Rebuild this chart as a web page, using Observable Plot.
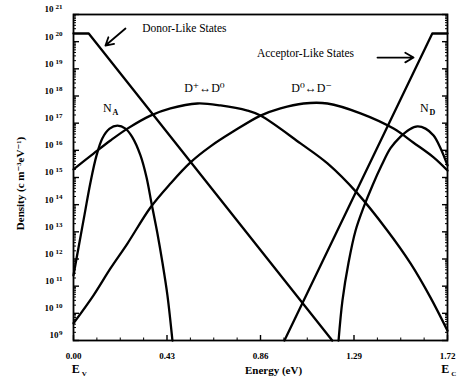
<!DOCTYPE html>
<html><head><meta charset="utf-8">
<script src="https://cdn.jsdelivr.net/npm/d3@7"></script>
<script src="https://cdn.jsdelivr.net/npm/@observablehq/plot@0.6"></script>
<style>body{margin:0;background:#fff}</style>
</head><body><div id="chart"></div>
<script>
// Donor-like tail states
const donorX = [0, 0.07, 1.19];
const donorY = [2e20, 2e20, 1e9];
// Acceptor-like tail states
const acceptorX = [0.97, 1.65, 1.72];
const acceptorY = [1e9, 2e20, 2e20];
// D+ <-> D0 dangling bond band
const dpX = [0, 0.092, 0.17, 0.248, 0.354, 0.446, 0.57, 0.676, 0.80, 0.86, 1.044, 1.168, 1.306, 1.444, 1.55, 1.642, 1.72];
const dpY = [2.0e15, 7.6e15, 2.3e16, 6.3e16, 1.9e17, 3.5e17, 5.3e17, 4.5e17, 2.9e17, 1.9e17, 1.8e16, 3.3e15, 2.6e14, 1.1e13, 6.9e11, 3.8e10, 2.3e9];
// D0 <-> D- dangling bond band
const dmX = [0, 0.092, 0.17, 0.248, 0.354, 0.446, 0.538, 0.63, 0.736, 0.86, 0.952, 1.058, 1.168, 1.32, 1.472, 1.564, 1.656, 1.72];
const dmY = [4.3e9, 4.6e10, 4.5e11, 3.7e12, 7.9e13, 6.0e14, 3.6e15, 1.4e16, 5.0e16, 1.9e17, 3.5e17, 5.3e17, 5.3e17, 2.3e17, 6.3e16, 1.9e16, 5.5e15, 1.8e15];
// N_A
const naX = [0, 0.023, 0.051, 0.078, 0.106, 0.133, 0.166, 0.202, 0.239, 0.271, 0.308, 0.336, 0.359, 0.386, 0.409, 0.432, 0.455];
const naY = [2.5e11, 2.6e12, 4.4e13, 6.6e14, 6.5e15, 2.8e16, 6.3e16, 8.1e16, 6.3e16, 3.0e16, 6.5e15, 1.0e15, 1.1e14, 8.7e12, 7.4e11, 4.6e10, 1e9];
// N_D
const ndX = [1.219, 1.237, 1.265, 1.297, 1.334, 1.375, 1.417, 1.458, 1.504, 1.545, 1.582, 1.619, 1.656, 1.688, 1.72];
const ndY = [1e9, 3.0e10, 7.4e11, 1.1e13, 7.9e13, 5.1e14, 2.8e15, 1.2e16, 3.2e16, 5.9e16, 7.6e16, 6.3e16, 3.5e16, 1.2e16, 2.8e15];

const xTicks = [0, 0.43, 0.86, 1.29, 1.72];
const xMinor = [0.1075, 0.215, 0.3225, 0.5375, 0.645, 0.7525, 0.9675, 1.075, 1.1825, 1.3975, 1.505, 1.6125];
const yExponents = [9, 10, 11, 12, 13, 14, 15, 16, 17, 18, 19, 20, 21];

const toRows = (xs, ys, name) => xs.map((x, i) => ({x, y: ys[i], curve: name}));
const tails = [...toRows(donorX, donorY, "donor"), ...toRows(acceptorX, acceptorY, "acceptor")];
const bands = [
  ...toRows(dpX, dpY, "D+D0"), ...toRows(dmX, dmY, "D0D-"),
  ...toRows(naX, naY, "NA"), ...toRows(ndX, ndY, "ND")
];

const yMajor = yExponents.map(e => Math.pow(10, e));
const yMinor = [];
for (const e of yExponents.slice(0, -1)) for (let m = 2; m <= 9; m++) yMinor.push(m * Math.pow(10, e));

const supMap = {"0":"⁰","1":"¹","2":"²","3":"³","4":"⁴","5":"⁵","6":"⁶","7":"⁷","8":"⁸","9":"⁹"};
const fmtY = d => {
  const e = Math.round(Math.log10(d));
  return "10" + String(e).split("").map(c => supMap[c]).join("");
};

const serif = "'Liberation Serif', 'DejaVu Serif', serif";

const chart = Plot.plot({
  width: 467,
  height: 389,
  marginLeft: 73,
  marginRight: 20,
  marginTop: 14,
  marginBottom: 49,
  style: {fontFamily: serif, fontSize: "9px", color: "black", background: "white"},
  x: {domain: [0, 1.72]},
  y: {type: "log", domain: [1e9, 1e21]},
  marks: [
    Plot.axisY({anchor: "left", ticks: yMajor, tickSize: -6, tickFormat: () => "", label: null, strokeWidth: 1.4}),
    Plot.axisY({anchor: "left", ticks: yMinor, tickSize: -3, tickFormat: () => "", label: null}),
    Plot.axisY({anchor: "right", ticks: yMajor, tickSize: -6, tickFormat: () => "", label: null, strokeWidth: 1.4}),
    Plot.axisY({anchor: "right", ticks: yMinor, tickSize: -3, tickFormat: () => "", label: null}),
    Plot.axisY({anchor: "left", ticks: yMajor, tickSize: 0, tickPadding: 11, tickFormat: fmtY, label: null, fontWeight: "bold", dy: -5}),
    Plot.axisX({anchor: "bottom", ticks: xTicks, tickSize: -5, tickFormat: () => "", label: null, strokeWidth: 1.4}),
    Plot.axisX({anchor: "bottom", ticks: xMinor, tickSize: -2.5, tickFormat: () => "", label: null}),
    Plot.axisX({anchor: "bottom", ticks: xTicks, tickSize: 0, tickPadding: 12, tickFormat: d3.format(".2f"), label: null, fontWeight: "bold"}),
    Plot.frame({stroke: "black", strokeWidth: 1.8}),
    Plot.line(tails, {x: "x", y: "y", z: "curve", stroke: "black", strokeWidth: 2.3}),
    Plot.line(bands, {x: "x", y: "y", z: "curve", stroke: "black", strokeWidth: 2.3, curve: "catmull-rom"}),
    Plot.text(["Donor-Like States"], {x: 0.51, y: 3.05e20, text: d => d, fontSize: 11.5, textAnchor: "middle"}),
    Plot.arrow([0], {x1: 0.239, y1: 3.05e20, x2: 0.147, y2: 7.2e19, stroke: "black", strokeWidth: 1.8, headLength: 8}),
    Plot.text(["Acceptor-Like States"], {x: 1.067, y: 3.67e19, text: d => d, fontSize: 11.5, textAnchor: "middle"}),
    Plot.arrow([0], {x1: 1.398, y1: 2.6e19, x2: 1.564, y2: 2.6e19, stroke: "black", strokeWidth: 1.8, headLength: 8}),
    Plot.text(["D⁺↔D⁰"], {x: 0.602, y: 2.0e18, text: d => d, fontSize: 12, textAnchor: "middle"}),
    Plot.text(["D⁰↔D⁻"], {x: 1.095, y: 1.9e18, text: d => d, fontSize: 12, textAnchor: "middle"}),
    Plot.text(["N"], {x: 0.156, y: 3.5e17, text: d => d, fontSize: 12, textAnchor: "middle"}),
    Plot.text(["A"], {x: 0.156, y: 3.5e17, text: d => d, fontSize: 8, fontWeight: "bold", textAnchor: "start", dx: 5, dy: 4}),
    Plot.text(["N"], {x: 1.614, y: 3.5e17, text: d => d, fontSize: 12, textAnchor: "middle"}),
    Plot.text(["D"], {x: 1.614, y: 3.5e17, text: d => d, fontSize: 8, fontWeight: "bold", textAnchor: "start", dx: 5, dy: 4}),
    Plot.text(["Energy (eV)"], {x: 0.92, frameAnchor: "bottom", dy: 33, text: d => d, fontSize: 11, fontWeight: "bold", textAnchor: "middle"}),
    Plot.text(["E"], {x: 0.01, frameAnchor: "bottom", dy: 32, text: d => d, fontSize: 12, fontWeight: "bold", textAnchor: "middle"}),
    Plot.text(["V"], {x: 0.01, frameAnchor: "bottom", dy: 35, dx: 6, text: d => d, fontSize: 7, fontWeight: "bold", textAnchor: "start"}),
    Plot.text(["E"], {x: 1.71, frameAnchor: "bottom", dy: 32, text: d => d, fontSize: 12, fontWeight: "bold", textAnchor: "middle"}),
    Plot.text(["C"], {x: 1.71, frameAnchor: "bottom", dy: 35, dx: 6, text: d => d, fontSize: 7, fontWeight: "bold", textAnchor: "start"}),
    Plot.text(["Density (c m⁻³eV⁻¹)"], {frameAnchor: "left", dx: -53, dy: 6, rotate: -90, text: d => d, fontSize: 11, fontWeight: "bold", textAnchor: "middle"})
  ]
});
// Render y tick labels as "10" + raised exponent
const unsup = Object.fromEntries(Object.entries(supMap).map(([k, v]) => [v, k]));
d3.select(chart).selectAll("text").each(function() {
  const t = this.textContent;
  if (!/^10[⁰¹²³⁴⁵⁶⁷⁸⁹]+$/.test(t)) return;
  const exp = t.slice(2).split("").map(c => unsup[c]).join("");
  const sel = d3.select(this);
  sel.text(null);
  sel.append("tspan").text("10");
  sel.append("tspan").attr("dy", "-0.45em").attr("dx", exp.length > 1 ? "2" : "0.5").attr("font-size", "7px").text(exp);
});
document.getElementById("chart").appendChild(chart);
</script>
</body></html>
